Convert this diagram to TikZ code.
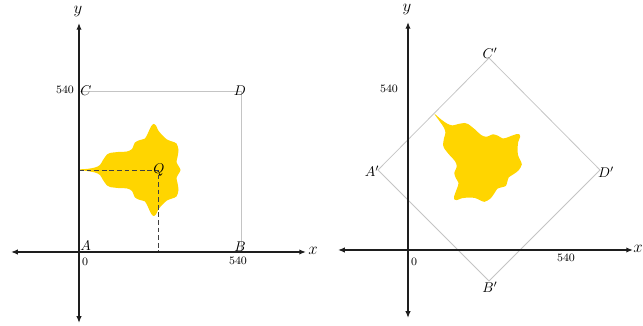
\documentclass[tikz,border=0pt]{standalone}
\usepackage{tikz}
\usetikzlibrary{arrows.meta, positioning, calc}
\definecolor{figGold}{HTML}{FFD500}
\definecolor{figFrame}{HTML}{C4C4C4}
\definecolor{figAxis}{HTML}{1E1E1E}

\begin{document}
\begin{tikzpicture}[x=0.025cm,y=0.025cm,
  axis/.style={figAxis,line width=0.9pt,{Latex[length=4.8pt,width=3.8pt]}-{Latex[length=4.8pt,width=3.8pt]}},
  frame/.style={figFrame,line width=0.55pt},
  guide/.style={figAxis!85,line width=0.55pt,dash pattern=on 3.4pt off 2pt},
  ticklbl/.style={font=\footnotesize,inner sep=0pt},
  cornerlbl/.style={font=\normalsize,inner sep=0pt},
  axislbl/.style={font=\large,inner sep=0pt}]
\useasboundingbox (0,0) rectangle (643,326);
\newcommand{\goldblob}{%
  \fill[figGold] plot[smooth cycle,tension=0.5] coordinates {
    (-79,0.4) (-70,1.2) (-63,2.5) (-58,5) (-55,10) (-51,15.5) (-48,17) (-40,18)
    (-31,18.5) (-26,21) (-23,27.5) (-18,30) (-13,31.5) (-10,37) (-7,43.5) (-4.5,46)
    (-2,44.5) (0,40) (4,35) (9,30.5) (14,28.5) (18.5,26.5) (20.5,20) (19.5,13) (18.5,8) (20.5,4)
    (22.5,0)
    (20.5,-4) (18.5,-8) (19.5,-13) (20.5,-20) (18.5,-26.5) (14,-28.5) (9,-30.5) (4,-35) (0,-40)
    (-2,-44.5) (-4.5,-46) (-7,-43.5) (-10,-37) (-13,-31.5) (-18,-30) (-23,-27.5)
    (-26,-21) (-31,-18.5) (-40,-18) (-48,-17) (-51,-15.5) (-55,-10) (-58,-5)
    (-63,-2.5) (-70,-1.2)};
}

% left panel: square ABDC
\coordinate (A) at (79,74);
\coordinate (B) at (241,74);
\coordinate (D) at (241,235);
\coordinate (C) at (79,235);
\coordinate (Q) at (158,156);
\draw[frame] (A) -- (B) -- (D) -- (C) -- cycle;
\begin{scope}[shift={(Q)}]
  \goldblob
\end{scope}
\coordinate (Qy) at (79,156);
\coordinate (Qx) at (158,74);
\draw[guide] (Qy) -- (Q) -- (Qx);
\coordinate (xlL) at (11,74);
\coordinate (xrL) at (306,74);
\coordinate (ybL) at (79,3);
\coordinate (ytL) at (79,303);
\draw[axis] (xlL) -- (xrL);
\draw[axis] (ybL) -- (ytL);
\node[axislbl] (labxL) at (313,75) {$x$};
\node[axislbl] (labyL) at (78,314) {$y$};
\node[ticklbl] (t540yL) at (65,236) {540};
\node[ticklbl] (t0L) at (85,64) {0};
\node[ticklbl] (t540xL) at (238,65) {540};
\node[cornerlbl,anchor=west] (labC) at (80,235) {$C$};
\node[cornerlbl] (labD) at (240,235) {$D$};
\node[cornerlbl,anchor=west] (labA) at (80,80) {$A$};
\node[cornerlbl] (labB) at (240,79) {$B$};
\node[cornerlbl] (labQ) at (159,156) {$Q$};

% right panel: rotated square A'B'D'C'
\coordinate (Ar) at (378,156);
\coordinate (Br) at (489,45);
\coordinate (Dr) at (600,156);
\coordinate (Cr) at (489,268);
\coordinate (Qr) at (490,156);
\draw[frame] (Ar) -- (Br) -- (Dr) -- (Cr) -- cycle;
\begin{scope}[shift={(Qr)},rotate=-45]
  \goldblob
\end{scope}
\coordinate (xlR) at (338,76);
\coordinate (xrR) at (633,76);
\coordinate (ybR) at (408,8);
\coordinate (ytR) at (408,304);
\draw[axis] (xlR) -- (xrR);
\draw[axis] (ybR) -- (ytR);
\node[axislbl,anchor=east] (labxR) at (643,77) {$x$};
\node[axislbl] (labyR) at (407,316) {$y$};
\node[ticklbl] (t540yR) at (389,237) {540};
\node[ticklbl] (t0R) at (414,64) {0};
\node[ticklbl] (t540xR) at (566,68) {540};
\node[cornerlbl] (labCr) at (490,273) {$C'$};
\node[cornerlbl] (labAr) at (372,155) {$A'$};
\node[cornerlbl] (labDr) at (606,154) {$D'$};
\node[cornerlbl] (labBr) at (490,39) {$B'$};
\end{tikzpicture}
\end{document}
